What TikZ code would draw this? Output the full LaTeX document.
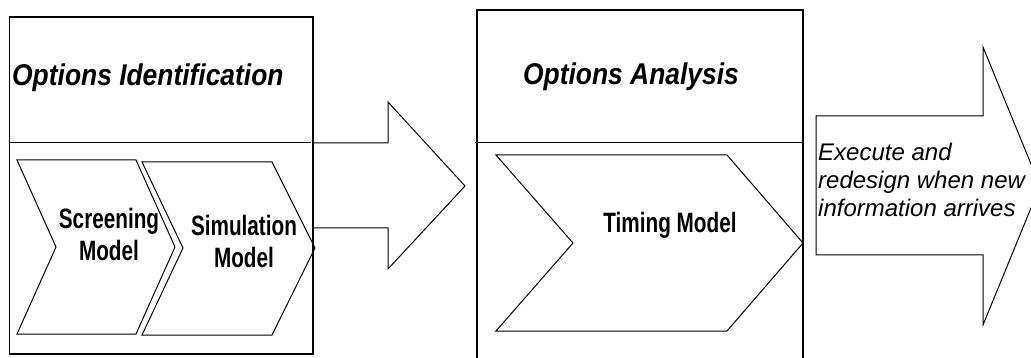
\documentclass[tikz,border=0pt]{standalone}
\usepackage{fontspec}
\setmainfont{Liberation Sans}
\newfontfamily\titlefont[FakeStretch=0.88]{Liberation Sans}
\newfontfamily\narrowfont[FakeStretch=0.74]{Liberation Sans}

\tikzset{
    frame/.style={draw, line width=1.3pt},
    shape line/.style={draw, line width=1pt, line join=miter},
    heading/.style={font=\titlefont\bfseries\itshape\fontsize{30}{34}\selectfont, inner sep=0pt},
    model/.style={font=\narrowfont\bfseries\fontsize{28}{32}\selectfont, align=center, inner sep=0pt},
    note/.style={font=\itshape\fontsize{24}{28}\selectfont, align=left, inner sep=0pt}
}

\begin{document}
\begin{tikzpicture}[x=1pt, y=-1pt]
    \useasboundingbox (0,0) rectangle (1031,358);
    \clip (0,0) rectangle (1031,358);

    % phase frames
    \draw[frame] (9.5,17) rectangle (313,354);
    \draw[shape line] (9.5,143) -- (311,143);
    \draw[frame] (477,10) rectangle (803,380);
    \draw[shape line] (475,143) -- (803,143);

    % big arrows
    \draw[shape line] (313,143) -- (388,143) -- (388,102) -- (465,186) -- (388,269) -- (388,228) -- (313,228);
    \draw[shape line] (816,116) -- (983,116) -- (983,47) -- (1040,186) -- (983,325) -- (983,255) -- (816,255) -- cycle;

    % chevrons
    \draw[shape line] (17,160) -- (136,160) -- (175,247) -- (136,334) -- (17,334) -- (56,247) -- cycle;
    \draw[shape line] (142,162) -- (272,162) -- (315,248) -- (272,335) -- (142,335) -- (183,248) -- cycle;
    \draw[shape line] (496,155) -- (727,155) -- (803,243) -- (727,331) -- (496,331) -- (573,243) -- cycle;

    % labels
    \node[heading, anchor=west] (ident) at (12,78) {Options Identification};
    \node[heading] (anal) at (631,77) {Options Analysis};
    \node[model] (screen) at (109,234) {Screening\\Model};
    \node[model] (simul) at (244,241) {Simulation\\Model};
    \node[model] (timing) at (670,225) {Timing Model};
    \node[note, anchor=west] (exec) at (818,180) {Execute and\\redesign when new\\information arrives};
\end{tikzpicture}
\end{document}
